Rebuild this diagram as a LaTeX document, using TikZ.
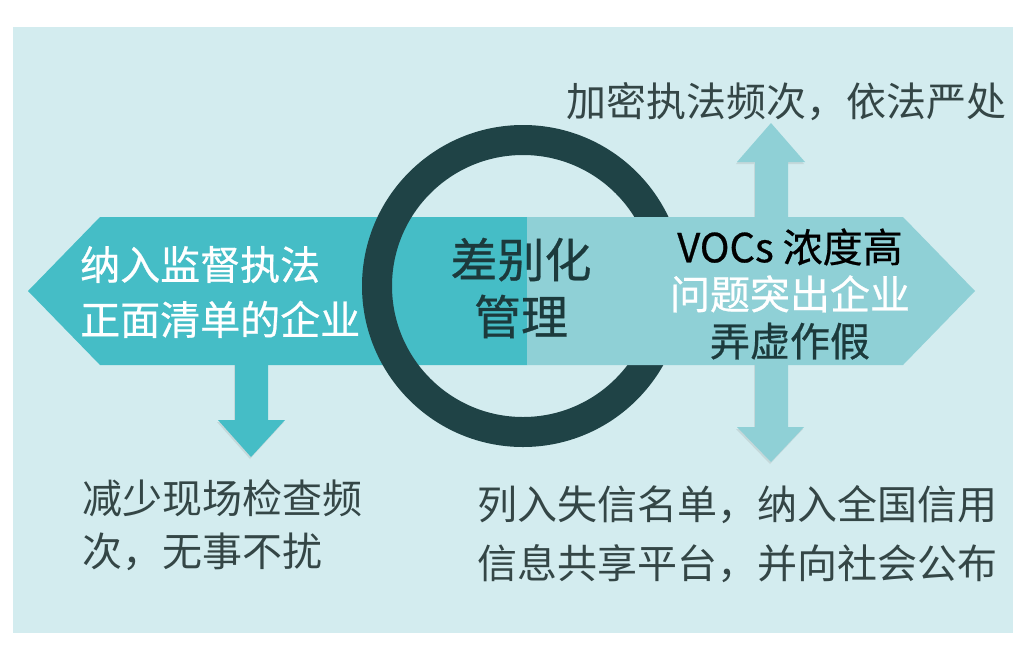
\documentclass[tikz,border=0pt]{standalone}
\usepackage{fontspec}
\setmainfont{Noto Sans CJK SC}
\newfontfamily\heavy{Noto Sans CJK SC}[FakeBold=0.6]
\usetikzlibrary{shadows}
\definecolor{paper}{HTML}{D3ECEF}
\definecolor{tealdark}{HTML}{45BDC6}
\definecolor{teallight}{HTML}{8FD0D6}
\definecolor{ringcol}{HTML}{1F4346}
\definecolor{ink}{HTML}{344646}
\definecolor{deep}{HTML}{1C3A3C}
\tikzset{
    shaft/.style = {
        fill=#1, drop shadow={shadow xshift=-1pt, shadow yshift=-2pt, opacity=.18}
    },
    words/.style = {
        inner sep=0, align=left, anchor=west, font=\fontsize{40}{#1}\selectfont
    },
    strong/.style = {
        inner sep=0, align=center, font=\fontsize{40}{#1}\selectfont\heavy
    }
}

\begin{document}
\begin{tikzpicture}[x=1pt, y=-1pt]
    \useasboundingbox (0,0) rectangle (1021,649);
    \fill[paper] (13,27) rectangle (1013,633);
    \fill[shaft=tealdark] (235,360) -- (235,420) -- (218,420) -- (251,457)
        -- (285,420) -- (268,420) -- (268,360) -- cycle;
    \fill[tealdark] (28,291) -- (100,217) -- (527,217) -- (527,365) -- (100,365) -- cycle;
    \draw[ringcol, line width=30pt] (523,286) circle[radius=146pt];
    \fill[shaft=teallight] (755,200) -- (755,162) -- (737,162) -- (771,123) -- (805,162)
        -- (788,162) -- (788,427) -- (804,427) -- (771,462) -- (737,427) -- (755,427) -- cycle;
    \fill[teallight] (527,217) -- (903,217) -- (975,291) -- (903,365) -- (527,365) -- cycle;
    \node[strong=55, text=white, align=left, anchor=west] (positive) at (80,292)
        {纳入监督执法\\正面清单的企业};
    \node[strong=57, text=deep, font=\fontsize{47}{57}\selectfont\heavy] (hub) at (521,288)
        {差别化\\管理};
    \node[strong=47, text=deep] (offender) at (790,294)
        {\textcolor{black}{VOCs 浓度高}\\\textcolor{white}{问题突出企业}\\弄虚作假};
    \node[words=39, text=ink] (alert) at (566,102) {加密执法频次，依法严处};
    \node[words=53, text=ink] (relief) at (82,525) {减少现场检查频\\次，无事不扰};
    \node[words=59, text=ink] (penalty) at (477,534) {列入失信名单，纳入全国信用\\信息共享平台，并向社会公布};
\end{tikzpicture}
\end{document}
